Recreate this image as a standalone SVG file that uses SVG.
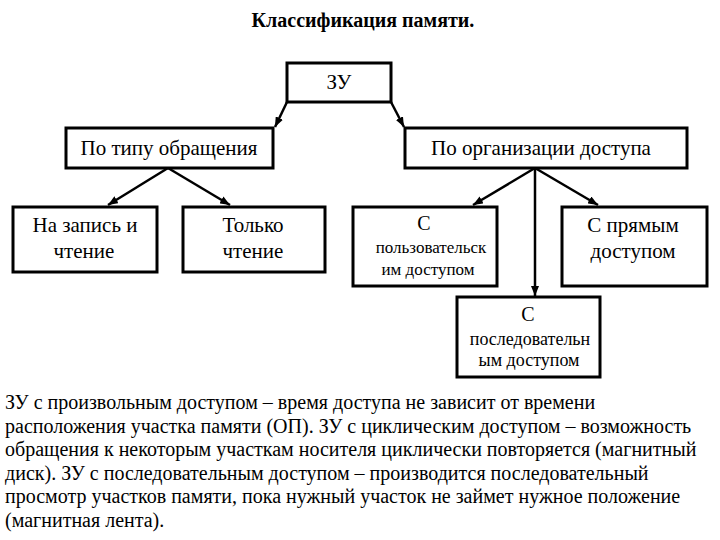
<svg xmlns="http://www.w3.org/2000/svg" width="720" height="540" viewBox="0 0 720 540">
<defs>
<marker id="ah" markerUnits="userSpaceOnUse" markerWidth="10" markerHeight="8" refX="10" refY="4" orient="auto">
<path d="M0,0 L10,4 L0,8 z" fill="#000"/>
</marker>
<style>
.box{fill:#fff;stroke:#000;stroke-width:3}
.c{stroke:#000;stroke-width:2.5;fill:none;marker-end:url(#ah)}
</style>
</defs>
<rect width="720" height="540" fill="#fff"/>
<text x="363" y="27" font-family="Liberation Serif, serif" font-size="20" font-weight="bold" text-anchor="middle">Классификация памяти.</text>
<g id="connectors">
<line class="c" x1="287" y1="102" x2="275" y2="127"/>
<line class="c" x1="391" y1="102" x2="404" y2="127"/>
<line class="c" x1="168" y1="168" x2="108" y2="205"/>
<line class="c" x1="168" y1="168" x2="230" y2="205"/>
<line class="c" x1="535" y1="168" x2="473" y2="205"/>
<line class="c" x1="535" y1="168" x2="535" y2="296"/>
<line class="c" x1="535" y1="168" x2="598" y2="205"/>
</g>
<g id="zu">
<rect class="box" x="287" y="63" width="104" height="39"/>
<text x="339" y="89" font-family="Liberation Serif, serif" font-size="21" text-anchor="middle">ЗУ</text>
</g>
<g id="po-tipu">
<rect class="box" x="66" y="128" width="207" height="40"/>
<text x="169" y="155" font-family="Liberation Serif, serif" font-size="21" text-anchor="middle">По типу обращения</text>
</g>
<g id="po-org">
<rect class="box" x="405" y="128" width="282" height="40"/>
<text x="541" y="155" font-family="Liberation Serif, serif" font-size="21" text-anchor="middle">По организации доступа</text>
</g>
<g id="zapis">
<rect class="box" x="13" y="207" width="144" height="65"/>
<text x="85" y="232" font-family="Liberation Serif, serif" font-size="21" text-anchor="middle">На запись и</text>
<text x="84" y="258" font-family="Liberation Serif, serif" font-size="21" text-anchor="middle">чтение</text>
</g>
<g id="tolko">
<rect class="box" x="183" y="207" width="142" height="65"/>
<text x="253" y="232" font-family="Liberation Serif, serif" font-size="21" text-anchor="middle">Только</text>
<text x="253" y="258" font-family="Liberation Serif, serif" font-size="21" text-anchor="middle">чтение</text>
</g>
<g id="polz">
<rect class="box" x="353" y="207" width="144" height="79"/>
<text x="424" y="230" font-family="Liberation Serif, serif" font-size="20" text-anchor="middle">С</text>
<text x="431" y="253" font-family="Liberation Serif, serif" font-size="17" text-anchor="middle">пользовательск</text>
<text x="428" y="275" font-family="Liberation Serif, serif" font-size="17" text-anchor="middle">им доступом</text>
</g>
<g id="pryam">
<rect class="box" x="562" y="207" width="145" height="79"/>
<text x="633" y="232" font-family="Liberation Serif, serif" font-size="21" text-anchor="middle">С прямым</text>
<text x="633" y="258" font-family="Liberation Serif, serif" font-size="21" text-anchor="middle">доступом</text>
</g>
<g id="posl">
<rect class="box" x="457" y="297" width="143" height="80"/>
<text x="528" y="321" font-family="Liberation Serif, serif" font-size="20" text-anchor="middle">С</text>
<text x="530" y="345" font-family="Liberation Serif, serif" font-size="18" text-anchor="middle">последовательн</text>
<text x="529" y="366" font-family="Liberation Serif, serif" font-size="18" text-anchor="middle">ым доступом</text>
</g>
<g id="description">
<text x="5" y="409" font-family="Liberation Serif, serif" font-size="20">ЗУ с произвольным доступом – время доступа не зависит от времени</text>
<text x="5" y="433" font-family="Liberation Serif, serif" font-size="20">расположения участка памяти (ОП). ЗУ с циклическим доступом – возможность</text>
<text x="5" y="456" font-family="Liberation Serif, serif" font-size="20">обращения к некоторым участкам носителя циклически повторяется (магнитный</text>
<text x="5" y="480" font-family="Liberation Serif, serif" font-size="20">диск). ЗУ с последовательным доступом – производится последовательный</text>
<text x="5" y="503" font-family="Liberation Serif, serif" font-size="20">просмотр участков памяти, пока нужный участок не займет нужное положение</text>
<text x="5" y="527" font-family="Liberation Serif, serif" font-size="20">(магнитная лента).</text>
</g>
</svg>
